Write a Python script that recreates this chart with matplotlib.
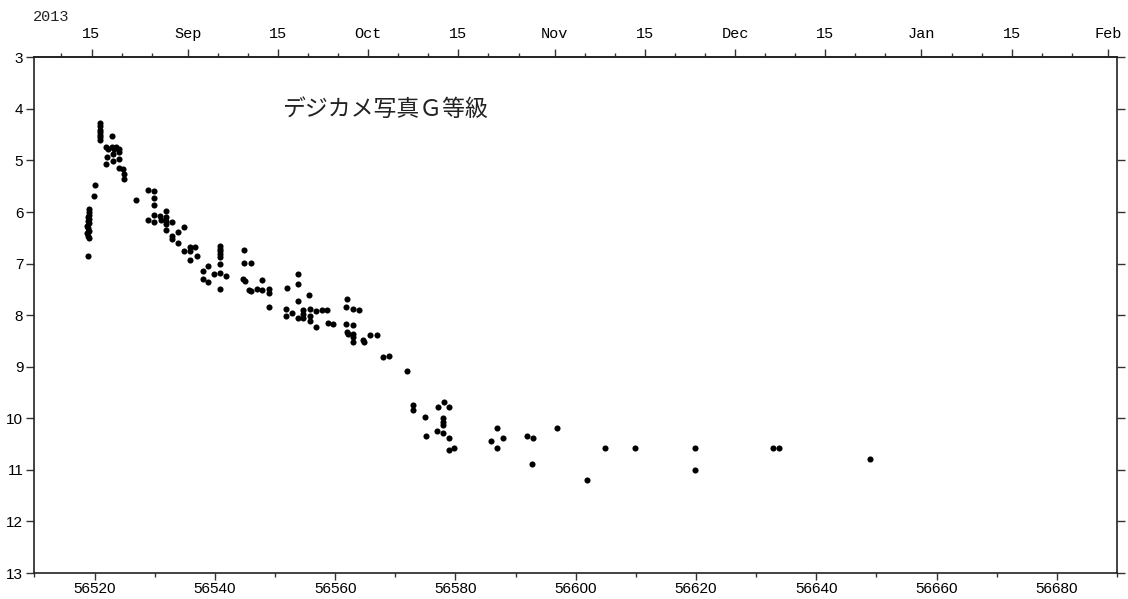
import matplotlib
matplotlib.use("Agg")
import matplotlib.pyplot as plt
from datetime import date

mjd = [
    56519.0, 56519.0, 56519.0, 56518.9, 56519.0, 56518.9, 56519.0, 56518.8, 56518.9, 56519.0, 56518.8, 56518.9, 56519.0, 56518.9,
    56519.9, 56520.1,
    56520.9, 56520.9, 56520.9, 56520.9, 56520.9, 56520.9, 56520.9,
    56522.9, 56521.9, 56522.3, 56522.9, 56523.2, 56523.6, 56524.0, 56524.0,
    56522.0, 56521.9, 56523.1, 56523.1, 56524.0, 56524.0, 56524.8, 56524.9, 56524.9,
    56526.9,
    56528.9, 56529.9, 56529.9, 56529.9,
    56528.9, 56529.9, 56529.9, 56530.9, 56531.0,
    56531.9, 56531.9, 56531.9, 56531.9, 56531.9,
    56532.9, 56534.9, 56533.8, 56532.9, 56532.9, 56533.8,
    56534.9, 56535.8, 56535.8, 56536.7, 56535.8, 56537.0,
    56538.0, 56538.9, 56538.0, 56538.8, 56539.9, 56540.8, 56541.8,
    56540.8, 56540.8, 56540.8, 56540.8, 56540.8, 56540.8, 56540.8,
    56544.9, 56544.9, 56546.0, 56544.7, 56545.0, 56545.7, 56546.0, 56547.0, 56547.8, 56547.8, 56549.0, 56549.0, 56549.0,
    56552.0, 56553.8, 56553.8, 56553.8, 56555.7,
    56551.8, 56552.8, 56551.8, 56553.8,
    56554.7, 56554.7, 56554.7,
    56555.8, 56555.8, 56555.8,
    56556.8, 56557.8, 56558.7, 56556.8, 56558.8, 56559.7,
    56562.0, 56561.8, 56562.9, 56563.9,
    56561.8, 56563.0, 56561.9, 56562.1, 56562.9, 56562.9, 56562.9,
    56564.7, 56564.8, 56565.8, 56567.0,
    56567.9, 56569.0, 56572.0,
    56572.9, 56572.9, 56574.9, 56577.1, 56578.1, 56579.0,
    56577.9, 56577.9, 56577.9,
    56575.1, 56576.9, 56577.9, 56579.0, 56579.0, 56579.8,
    56587.0, 56585.9, 56587.9, 56586.9,
    56591.9, 56592.9, 56592.7, 56596.9,
    56601.9, 56604.9, 56609.9, 56619.8, 56619.8,
    56632.8, 56633.8, 56648.9,
]
mag = [
    5.94, 6.00, 6.05, 6.10, 6.14, 6.18, 6.22, 6.27, 6.31, 6.36, 6.41, 6.46, 6.51, 6.86,
    5.68, 5.47,
    4.28, 4.34, 4.40, 4.45, 4.50, 4.55, 4.60,
    4.53, 4.74, 4.77, 4.73, 4.77, 4.74, 4.77, 4.84,
    4.94, 5.06, 4.87, 5.02, 4.97, 5.14, 5.16, 5.26, 5.36,
    5.76,
    5.57, 5.60, 5.72, 5.86,
    6.15, 6.05, 6.20, 6.08, 6.15,
    5.98, 6.10, 6.18, 6.23, 6.35,
    6.20, 6.30, 6.39, 6.46, 6.52, 6.60,
    6.75, 6.67, 6.76, 6.67, 6.93, 6.86,
    7.14, 7.05, 7.30, 7.35, 7.21, 7.19, 7.24,
    6.65, 6.71, 6.76, 6.81, 6.88, 7.00, 7.49,
    6.73, 6.99, 6.99, 7.30, 7.33, 7.51, 7.54, 7.49, 7.31, 7.51, 7.49, 7.57, 7.85,
    7.47, 7.21, 7.39, 7.73, 7.61,
    7.89, 7.95, 8.01, 8.05,
    7.90, 7.98, 8.05,
    7.88, 8.01, 8.11,
    7.91, 7.90, 7.90, 8.22, 8.16, 8.18,
    7.69, 7.85, 7.88, 7.90,
    8.17, 8.19, 8.33, 8.37, 8.37, 8.42, 8.53,
    8.48, 8.53, 8.38, 8.38,
    8.82, 8.79, 9.09,
    9.74, 9.83, 9.97, 9.78, 9.68, 9.78,
    10.00, 10.08, 10.13,
    10.34, 10.24, 10.28, 10.38, 10.62, 10.58,
    10.18, 10.44, 10.38, 10.58,
    10.34, 10.39, 10.88, 10.18,
    11.19, 10.58, 10.58, 10.58, 11.00,
    10.58, 10.58, 10.79,
]

bottom_ticks = [56520, 56540, 56560, 56580, 56600, 56620, 56640, 56660, 56680]
months = [(2013, 8, ""), (2013, 9, "Sep"), (2013, 10, "Oct"), (2013, 11, "Nov"),
          (2013, 12, "Dec"), (2014, 1, "Jan"), (2014, 2, "Feb")]
title_text = "デジカメ写真Ｇ等級"

XMIN, XMAX = 56510, 56690


def to_mjd(y, m, d):
    return (date(y, m, d) - date(1858, 11, 17)).days


# top date axis: month starts and 15th, minor every 5 days
top_pos = []
top_lab = []
top_minor = []
for y, m, name in months:
    if name:
        top_pos.append(to_mjd(y, m, 1) - 0.5)
        top_lab.append(name)
    if to_mjd(y, m, 15) + 0.5 < XMAX:
        top_pos.append(to_mjd(y, m, 15) + 0.5)
        top_lab.append("15")
    for d in (5, 10, 20, 25):
        v = to_mjd(y, m, d) + 0.5
        if XMIN < v < XMAX:
            top_minor.append(v)

fig = plt.figure(figsize=(11.28, 5.99), dpi=100)
ax = fig.add_axes([0.0305, 0.0434, 0.9597, 0.8609])

ax.plot(mjd, mag, "o", color="black", markersize=4.4, markeredgewidth=0)

ax.set_xlim(XMIN, XMAX)
ax.set_ylim(13, 3)

num_font = {"family": "Liberation Sans", "size": 11}
ax.set_xticks(bottom_ticks)
ax.set_xticks(list(range(56510, 56691, 10)), minor=True)
ax.set_xticklabels([str(t) for t in bottom_ticks], fontdict=num_font)
ax.set_yticks(range(3, 14))
ax.set_yticklabels([str(t) for t in range(3, 14)], fontdict=num_font)

ax.tick_params(axis="x", which="major", direction="out", length=5, width=1, pad=1.5, color="#333333")
ax.tick_params(axis="x", which="minor", direction="out", length=3, width=1, color="#333333")
ax.tick_params(axis="y", which="major", direction="out", length=6, width=1, pad=2,
               right=True, color="#333333")

for sp in ax.spines.values():
    sp.set_linewidth(1.2)
    sp.set_color("#222222")

top = ax.secondary_xaxis("top")
top.set_xticks(top_pos)
top.set_xticks(top_minor, minor=True)
top.set_xticklabels(top_lab, fontdict={"family": "Liberation Mono", "size": 11})
top.tick_params(axis="x", which="major", direction="out", length=6, width=1, pad=6, color="#333333")
top.tick_params(axis="x", which="minor", direction="out", length=3, width=1, color="#333333")
top.spines["top"].set_linewidth(1.2)
top.spines["top"].set_color("#222222")

fig.text(33 / 1128, 1 - 17 / 599, "2013", family="Liberation Mono", fontsize=11,
         ha="left", va="center", color="#222222")

ax.text(56551.1, 4.02, title_text, fontsize=16.5, ha="left", va="center",
        family=["Noto Sans CJK JP", "DejaVu Sans"], color="#222222")

fig.savefig("out.png", dpi=100)
